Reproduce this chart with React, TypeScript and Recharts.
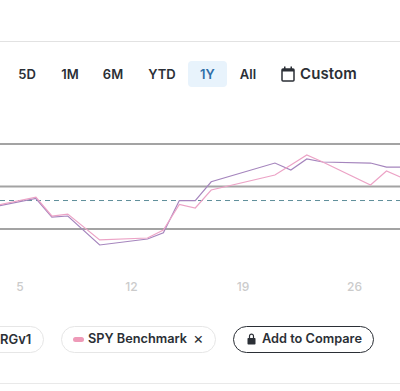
import { LineChart, Line, XAxis, YAxis, CartesianGrid, ReferenceLine } from 'recharts'

const days = [3, 6, 7, 8, 10, 13, 14, 15, 16, 17, 21, 22, 23, 24, 27, 28, 29]
const strategy = [2.47, 3.59, 1.41, 1.53, -1.88, -1.18, -0.44, 3.35, 3.35, 5.56, 7.76, 6.94, 8.24, 7.88, 7.76, 7.29, 7.29]
const benchmark = [2.59, 3.76, 1.53, 1.76, -1.29, -1.06, -0.12, 2.88, 2.47, 4.59, 6.35, 7.53, 8.71, 7.88, 5.18, 6.82, 6.0]
const xTicks = [5, 12, 19, 26]
const yTicks = [0, 5, 10]
const baseline = 3.35
const ranges = [
  { label: '5D', center: 27 },
  { label: '1M', center: 70 },
  { label: '6M', center: 113 },
  { label: 'YTD', center: 162 },
  { label: '1Y', center: 207.5 },
  { label: 'All', center: 248 },
]

const data = days.map((day, i) => ({ day, strategy: strategy[i], benchmark: benchmark[i] }))

const font = 'Inter, "Liberation Sans", sans-serif'
const dark = '#2b2f36'

const pill = {
  position: 'absolute',
  top: 326,
  height: 27,
  boxSizing: 'border-box',
  borderRadius: 14,
  background: '#fff',
} as const

const abs = (left: number, top: number, size: number) => ({
  position: 'absolute' as const,
  left,
  top,
  fontSize: size,
  fontWeight: 600,
  lineHeight: '20px',
  color: dark,
  whiteSpace: 'nowrap' as const,
})

export default function App() {
  return (
    <div style={{ position: 'fixed', left: 0, top: 0, width: 400, height: 391, overflow: 'hidden', background: '#fff', fontFamily: font }}>
      <div style={{ position: 'absolute', left: 0, top: 41, width: 400, height: 1, background: '#e2e2e2' }} />
      <div style={{ position: 'absolute', left: 0, top: 383, width: 400, height: 1, background: '#e9e9e9' }} />

      {/* range selector */}
      <div style={{ position: 'absolute', left: 188, top: 61, width: 39, height: 26, borderRadius: 4, background: '#e8f3fc' }} />
      {ranges.map((r) => (
        <div
          key={r.label}
          style={{
            ...abs(r.center - 25, 64, 13),
            width: 50,
            textAlign: 'center',
            color: r.label === '1Y' ? '#2f6ea8' : dark,
          }}
        >
          {r.label}
        </div>
      ))}
      <svg style={{ position: 'absolute', left: 281, top: 66 }} width={14} height={16} viewBox="0 0 14 16">
        <rect x={1} y={3} width={12} height={12} rx={1} fill="none" stroke={dark} strokeWidth={1.5} />
        <rect x={1} y={3} width={12} height={2.5} fill={dark} />
        <rect x={3} y={0.5} width={1.5} height={3} fill={dark} />
        <rect x={9.5} y={0.5} width={1.5} height={3} fill={dark} />
      </svg>
      <div style={{ ...abs(300, 64, 15), letterSpacing: 0.1 }}>Custom</div>

      <div style={{ position: 'absolute', left: 0, top: 0 }}>
        <LineChart width={400} height={391} data={data} margin={{ top: 110, right: 0, bottom: 98, left: 0 }}>
          <CartesianGrid vertical={false} stroke="#a3a3a3" strokeWidth={2} horizontalValues={yTicks} />
          <XAxis
            dataKey="day"
            type="number"
            domain={[3.745, 28.85]}
            allowDataOverflow
            ticks={xTicks}
            axisLine={false}
            tickLine={false}
            height={30}
            tickMargin={13}
            tick={{ fill: '#cbcbcb', fontSize: 12, fontFamily: font, fontWeight: 500 }}
          />
          <YAxis hide domain={[-4, 14]} ticks={yTicks} allowDataOverflow />
          <ReferenceLine y={baseline} stroke="#5f8f9a" strokeDasharray="5 4" strokeWidth={1} />
          <Line dataKey="strategy" stroke="#a585bd" strokeWidth={1.2} dot={false} isAnimationActive={false} />
          <Line dataKey="benchmark" stroke="#eca3c6" strokeWidth={1.2} dot={false} isAnimationActive={false} />
        </LineChart>
      </div>

      {/* compare pills */}
      <div style={{ ...pill, left: -60, width: 104, border: '1px solid #e6e6e6' }} />
      <div style={abs(0, 329, 13)}>RGv1</div>
      <div style={{ ...pill, left: 61, width: 155, border: '1px solid #e6e6e6' }} />
      <div style={{ position: 'absolute', left: 73, top: 337, width: 11, height: 5, borderRadius: 3, background: '#ee9ab8' }} />
      <div style={abs(88, 329, 12.75)}>SPY Benchmark</div>
      <div style={{ ...abs(193, 328, 16), fontWeight: 400 }}>×</div>
      <div style={{ ...pill, left: 233, width: 141, border: '1px solid #2b2f36' }} />
      <svg style={{ position: 'absolute', left: 247, top: 333 }} width={9} height={12} viewBox="0 0 9 12">
        <path d="M2.5 5V3.2a2 2 0 0 1 4 0V5" fill="none" stroke={dark} strokeWidth={1.2} />
        <rect x={0.5} y={5} width={8} height={6.5} rx={0.8} fill={dark} />
      </svg>
      <div style={abs(262, 329, 12.75)}>Add to Compare</div>
    </div>
  )
}
